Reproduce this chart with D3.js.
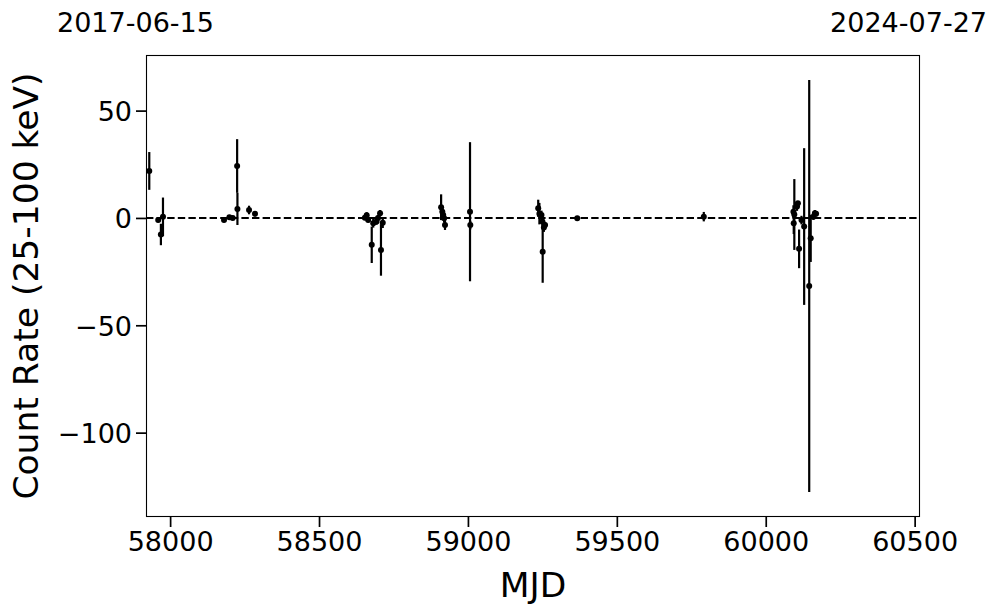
<!DOCTYPE html>
<html>
<head>
<meta charset="utf-8">
<script src="https://cdn.jsdelivr.net/npm/d3@7"></script>
<style>
  html, body { margin: 0; padding: 0; background: #fff; }
  svg text { font-family: "DejaVu Sans", sans-serif; fill: #000; }
</style>
</head>
<body>
<svg id="chart" width="997" height="613"></svg>
<script>
// Data
const mjd = [
  57930, 57960, 57969, 57976,
  58181, 58199, 58210, 58225, 58226, 58265, 58285,
  58654, 58660, 58665, 58677, 58682, 58693, 58698, 58705, 58708, 58714,
  58910, 58914, 58917, 58920, 58923, 59007, 59008,
  59236, 59240, 59247, 59250, 59251, 59255, 59259,
  59367, 59792,
  60093, 60094, 60096, 60105, 60108, 60112, 60120, 60129, 60146, 60151, 60160, 60165, 60169
];
const rate = [
  21.9, -1.0, -7.7, 0.5,
  -1.0, 0.3, 0.0, 24.2, 4.2, 3.7, 1.9,
  0.1, 1.2, -1.0, -12.5, -2.5, -1.7, 0.0, 2.2, -14.9, -2.2,
  5.0, 2.9, 1.4, -0.2, -3.3, 2.9, -3.3,
  4.5, 2.0, 1.4, -1.7, -15.7, -4.5, -3.3,
  -0.1, 0.6,
  2.9, -2.5, 1.6, 5.3, 6.8, -14.4, -1.0, -4.0, -31.7, -9.5, 0.6, 2.2, 1.9
];
const rateErr = [
  8.8, 1.0, 5.0, 9.0,
  1.0, 1.0, 1.0, 12.5, 7.5, 2.0, 1.2,
  1.0, 1.5, 1.0, 8.5, 2.0, 1.5, 1.5, 1.5, 12.0, 2.5,
  6.0, 2.0, 2.0, 2.0, 2.3, 32.4, 2.0,
  4.0, 5.0, 2.0, 2.0, 14.5, 2.0, 1.5,
  1.0, 2.2,
  3.0, 5.0, 16.5, 2.0, 1.0, 9.0, 2.0, 36.5, 96.0, 11.0, 1.5, 1.5, 1.2
];
const xTicks = [58000, 58500, 59000, 59500, 60000, 60500];
const yTicks = [-100, -50, 0, 50];
const xDomain = [57919, 60518];
const yDomain = [-139.3, 75.9];
const dateLabels = ["2017-06-15", "2024-07-27"];
const xLabel = "MJD";
const yLabel = "Count Rate (25-100 keV)";

const data = mjd.map((m, i) => ({ m, r: rate[i], e: rateErr[i] }));

const svg = d3.select("#chart");
const L = 146, R = 920, T = 55, B = 517;

const x = d3.scaleLinear().domain(xDomain).range([L, R]);
const y = d3.scaleLinear().domain(yDomain).range([B, T]);

const fmt = d => d < 0 ? "\u2212" + Math.abs(d) : String(d);

svg.append("defs").append("clipPath").attr("id", "clip")
  .append("rect").attr("x", L).attr("y", T).attr("width", R - L).attr("height", B - T);

const plot = svg.append("g").attr("clip-path", "url(#clip)");

// zero dashed line
plot.append("line")
  .attr("x1", L).attr("x2", R)
  .attr("y1", y(0)).attr("y2", y(0))
  .attr("stroke", "#000").attr("stroke-width", 2.1)
  .attr("stroke-dasharray", "7.4,3.2");

// error bars
plot.selectAll("line.err").data(data).enter().append("line")
  .attr("class", "err")
  .attr("x1", d => x(d.m)).attr("x2", d => x(d.m))
  .attr("y1", d => y(d.r - d.e)).attr("y2", d => y(d.r + d.e))
  .attr("stroke", "#000").attr("stroke-width", 2.2);

// points
plot.selectAll("circle").data(data).enter().append("circle")
  .attr("cx", d => x(d.m)).attr("cy", d => y(d.r))
  .attr("r", 3).attr("fill", "#000");

// frame
svg.append("rect").attr("x", L + 0.5).attr("y", T + 0.5).attr("width", R - L - 1).attr("height", B - T - 1)
  .attr("fill", "none").attr("stroke", "#000").attr("stroke-width", 1.1);

// axes
const xAxis = svg.append("g").attr("transform", `translate(0,${B})`)
  .call(d3.axisBottom(x).tickValues(xTicks).tickFormat(d => String(d)).tickSize(10).tickPadding(5));
const yAxis = svg.append("g").attr("transform", `translate(${L},0)`)
  .call(d3.axisLeft(y).tickValues(yTicks).tickFormat(fmt).tickSize(10).tickPadding(4));

[xAxis, yAxis].forEach(g => {
  g.select(".domain").remove();
  g.selectAll(".tick line").attr("stroke", "#000").attr("stroke-width", 1.7);
  g.selectAll(".tick text").style("font-size", "27px").style("font-family", "DejaVu Sans");
});
xAxis.selectAll(".tick text").attr("dy", "0.71em");
yAxis.selectAll(".tick text").attr("dy", "0.36em");

// axis labels
svg.append("text").attr("x", (L + R) / 2).attr("y", 597)
  .attr("text-anchor", "middle").style("font-size", "34.5px").text(xLabel);
svg.append("text").attr("transform", `translate(38,${(T + B) / 2}) rotate(-90)`)
  .attr("text-anchor", "middle").style("font-size", "34.5px").text(yLabel);

// date labels at top
svg.append("text").attr("x", 57).attr("y", 32).attr("text-anchor", "start")
  .style("font-size", "27px").text(dateLabels[0]);
svg.append("text").attr("x", 987).attr("y", 32).attr("text-anchor", "end")
  .style("font-size", "27px").text(dateLabels[1]);
</script>
</body>
</html>
